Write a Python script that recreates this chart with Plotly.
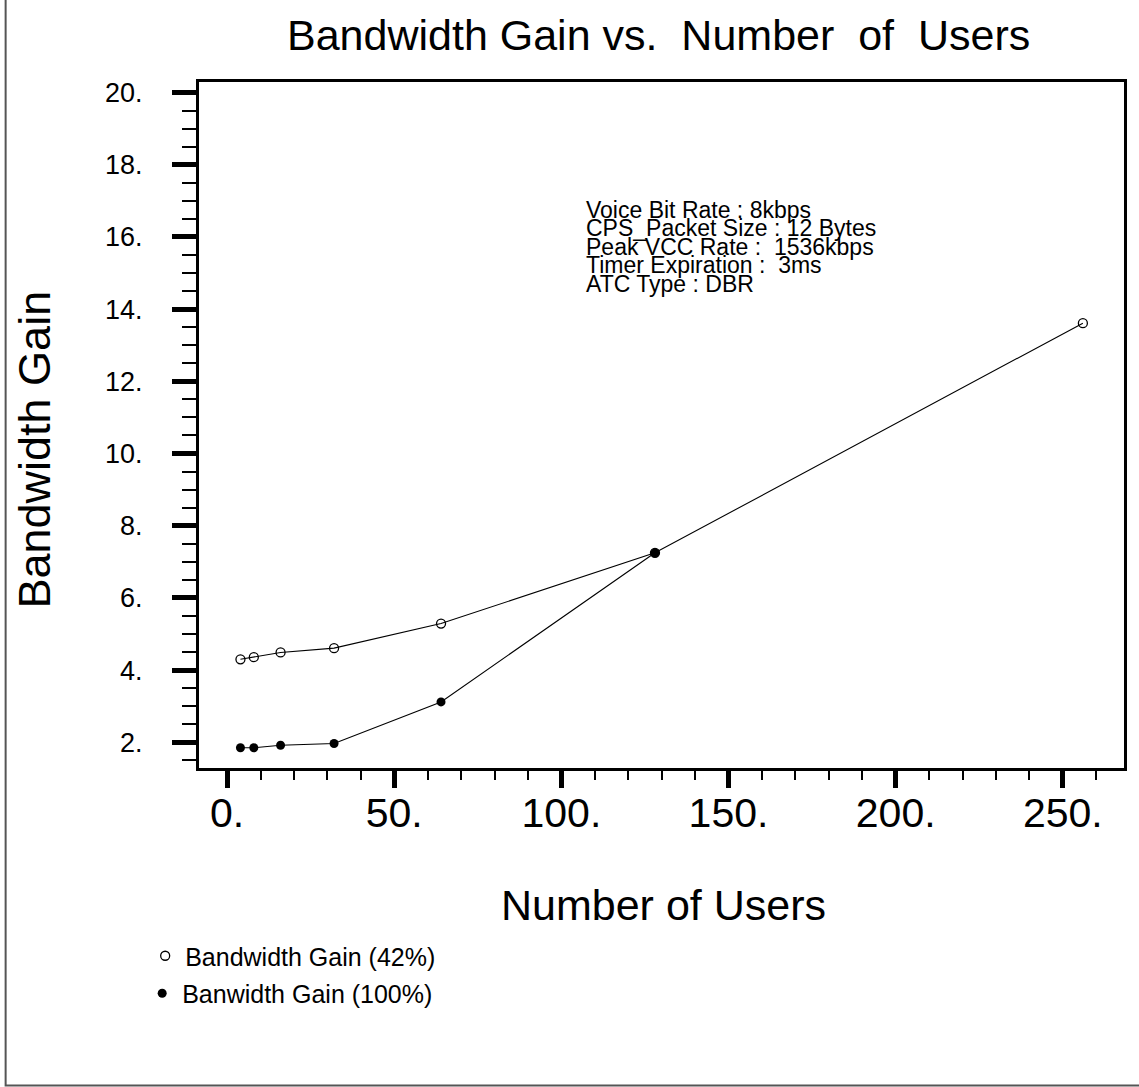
import plotly.graph_objects as go

# ---- data ----
users = [4, 8, 16, 32, 64, 128, 256]
gain_42 = [4.30, 4.36, 4.49, 4.61, 5.29, 7.25, 13.61]
users_100 = [4, 8, 16, 32, 64, 128]
gain_100 = [1.85, 1.85, 1.92, 1.97, 3.12, 7.25]

x_tickvals = [0, 50, 100, 150, 200, 250]
y_tickvals = [2, 4, 6, 8, 10, 12, 14, 16, 18, 20]
x_ticktext = [f"{v}." for v in x_tickvals]
y_ticktext = [f"{v}." for v in y_tickvals]

info_lines = [
    "Voice Bit Rate : 8kbps",
    "CPS_Packet Size : 12 Bytes",
    "Peak VCC Rate :  1536kbps",
    "Timer Expiration :  3ms",
    "ATC Type : DBR",
]

# ---- layout geometry (pixels) ----
W, H = 1139, 1087
L, R, T, B = 199, 1127, 82, 768
PW, PH = R - L, B - T


def px(x):
    return (x - L) / PW


def py(y):
    return (B - y) / PH


FONT = "Liberation Sans, Arial, sans-serif"

fig = go.Figure()
# connecting lines (no legend entry)
fig.add_trace(go.Scatter(x=users, y=gain_42, mode="lines", showlegend=False,
                         line=dict(color="black", width=1.1), hoverinfo="skip"))
fig.add_trace(go.Scatter(x=users_100, y=gain_100, mode="lines", showlegend=False,
                         line=dict(color="black", width=1.1), hoverinfo="skip"))
# markers (with legend entries)
fig.add_trace(go.Scatter(
    x=users, y=gain_42, mode="markers", name="Bandwidth Gain (42%)",
    marker=dict(symbol="circle-open", size=9, color="black", line=dict(width=1.3, color="black")),
    legend="legend",
))
fig.add_trace(go.Scatter(
    x=users_100, y=gain_100, mode="markers", name="Banwidth Gain (100%)",
    marker=dict(symbol="circle", size=9, color="black"),
    legend="legend2",
))

annotations = [
    dict(text="Bandwidth Gain vs.  Number  of  Users", x=px(660), y=py(35),
         xanchor="center", yanchor="middle", font=dict(size=43)),
    dict(text="Number of Users", x=px(665), y=py(905),
         xanchor="center", yanchor="middle", font=dict(size=43)),
    dict(text="Bandwidth Gain", x=px(33), y=py(450), textangle=-90,
         xanchor="center", yanchor="middle", font=dict(size=45)),
]
for i, line in enumerate(info_lines):
    annotations.append(dict(text=line, x=px(585), y=py(210 + 18.4 * i),
                            xanchor="left", yanchor="middle", font=dict(size=23)))
for a in annotations:
    a.update(xref="paper", yref="paper", showarrow=False)
    a["font"].update(family=FONT, color="black")

fig.update_layout(
    width=W, height=H,
    margin=dict(l=L, r=W - R, t=T, b=H - B, pad=0),
    paper_bgcolor="white", plot_bgcolor="white",
    font=dict(family=FONT, color="black"),
    annotations=annotations,
    showlegend=True,
    legend=dict(x=px(145), y=py(933), xanchor="left", yanchor="top",
                bgcolor="rgba(0,0,0,0)", borderwidth=0, font=dict(size=25, family=FONT)),
    legend2=dict(x=px(142), y=py(970.5), xanchor="left", yanchor="top",
                 bgcolor="rgba(0,0,0,0)", borderwidth=0, font=dict(size=25, family=FONT)),
    shapes=[dict(type="rect", xref="paper", yref="paper",
                 x0=px(5), x1=px(1145), y0=py(1085.5), y1=py(-5),
                 line=dict(color="#555555", width=2), layer="below")],
)

fig.update_xaxes(
    range=[-8.4, 268.3], showgrid=False, zeroline=False,
    showline=True, linewidth=3, linecolor="black", mirror=True,
    tickmode="array", tickvals=x_tickvals, ticktext=x_ticktext,
    ticks="outside", ticklen=17, tickwidth=5, tickcolor="black",
    tickfont=dict(size=41, family=FONT), ticklabelstandoff=-10,
    minor=dict(tickmode="linear", tick0=0, dtick=10, ticks="outside",
               ticklen=9, tickwidth=2, tickcolor="black"),
)
fig.update_yaxes(
    range=[1.29, 20.29], showgrid=False, zeroline=False,
    showline=True, linewidth=3, linecolor="black", mirror=True,
    tickmode="array", tickvals=y_tickvals, ticktext=y_ticktext,
    ticks="outside", ticklen=24, tickwidth=5, tickcolor="black",
    tickfont=dict(size=27, family=FONT), ticklabelstandoff=24,
    minor=dict(tickmode="linear", tick0=0, dtick=0.5, ticks="outside",
               ticklen=14, tickwidth=2, tickcolor="black"),
)

fig.write_html("out.html", config={"displayModeBar": False},
               post_script="document.body.style.margin='0';")
